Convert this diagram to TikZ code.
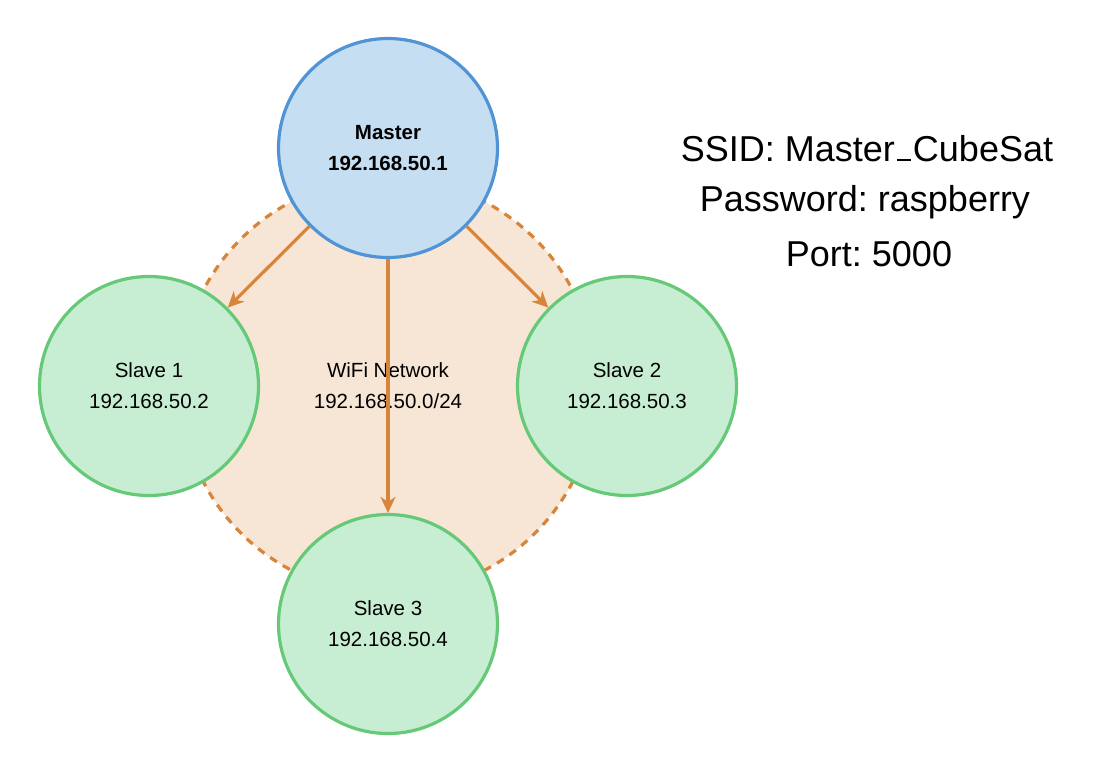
\documentclass[tikz,border=0pt]{standalone}
\usepackage{fontspec}
\setmainfont{Liberation Sans}
\usetikzlibrary{arrows.meta}
\frenchspacing
\definecolor{mfill}{HTML}{C6DEF2}
\definecolor{mdraw}{HTML}{5194D5}
\definecolor{sfill}{HTML}{C7EED3}
\definecolor{sdraw}{HTML}{66C978}
\definecolor{nfill}{HTML}{F7E5D6}
\definecolor{ndraw}{HTML}{D6853A}
\newcommand{\lowbar}{\kern0.05em\rule{0.40em}{0.065em}\kern0.05em}
\tikzset{
  nodefont/.style={font=\fontsize{20.5}{31}\selectfont, align=center, text=black},
  bigcirc/.style={circle, minimum size=219pt, inner sep=0pt, line width=3.2pt, nodefont},
  masterc/.style={bigcirc, fill=mfill, draw=mdraw},
  slavec/.style={bigcirc, fill=sfill, draw=sdraw},
  netc/.style={circle, minimum size=416pt, inner sep=0pt, fill=nfill, draw=ndraw, line width=3.2pt, dash pattern=on 8pt off 7pt, nodefont},
  link/.style={draw=ndraw, line width=3.2pt, -{Stealth[length=16pt,width=15pt,inset=5pt]}},
  infotext/.style={font=\fontsize{36}{40}\selectfont, anchor=base, text=black}
}
\begin{document}
\begin{tikzpicture}[x=1pt,y=-1pt]
\useasboundingbox (0,0) rectangle (1114,774);
\node[netc] (net) at (388,386) {WiFi Network\\192.168.50.0/24};
\node[masterc] (master) at (388,148) {\textbf{Master}\\\textbf{192.168.50.1}};
\node[slavec] (s1) at (149,386) {Slave 1\\192.168.50.2};
\node[slavec] (s2) at (627,386) {Slave 2\\192.168.50.3};
\node[slavec] (s3) at (388,624) {Slave 3\\192.168.50.4};
\draw[link] (master) -- (s1);
\draw[link] (master) -- (s2);
\draw[link] (master) -- (s3);
\node[infotext] (ssid) at (867,161) {SSID: Master\lowbar CubeSat};
\node[infotext] (pw) at (865,211) {Password: raspberry};
\node[infotext] (port) at (869,266) {Port: 5000};
\end{tikzpicture}
\end{document}
